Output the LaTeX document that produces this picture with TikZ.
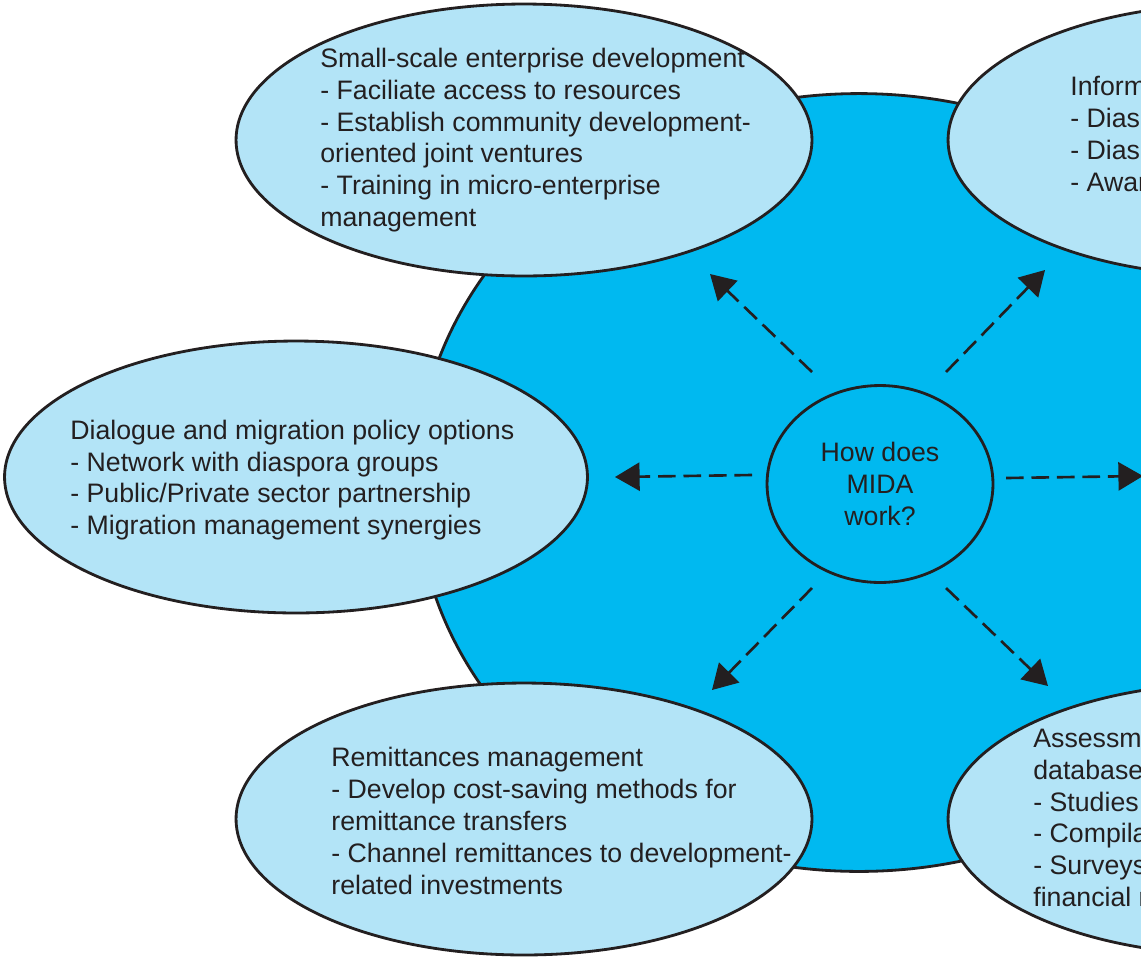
\documentclass[tikz,border=0pt]{standalone}
\usepackage{fontspec}
\setmainfont{Liberation Sans}
\usetikzlibrary{arrows.meta,shapes.geometric}
\definecolor{midablue}{HTML}{00B9F0}
\definecolor{bubbleblue}{HTML}{B3E4F7}
\definecolor{inkgray}{HTML}{231F20}
\tikzset{
	hub/.style={ellipse, draw=inkgray, line width=1.6pt, fill=midablue, inner sep=0pt},
	bubble/.style={ellipse, draw=inkgray, line width=1.6pt, fill=bubbleblue, inner sep=0pt, minimum width=11.52cm, minimum height=5.44cm},
	txt/.style={text=inkgray, align=left, anchor=west, inner sep=0pt, font=\fontsize{15.2}{18.1}\selectfont},
	link/.style={draw=inkgray, line width=1.5pt, dash pattern=on 10pt off 4.5pt, -{Triangle[length=14pt,width=16pt]}}
}

\begin{document}
\begin{tikzpicture}[x=0.02cm, y=-0.02cm]
			%%%%% START %%%%%
			
			\useasboundingbox (0,0) rectangle (1141,957);
			\clip (0,0) rectangle (1141,957);
			
			\node[hub, minimum width=17.72cm, minimum height=15.56cm] (core) at (859,482.5) {};
			\node[hub, minimum width=4.52cm, minimum height=3.94cm, text=inkgray, align=center, font=\fontsize{15.2}{18.1}\selectfont] (mida) at (880,484) {How does\\MIDA\\work?};
			
			\node[bubble] (sse) at (524,140) {};
			\node[bubble] (info) at (1236,140) {};
			\node[bubble, minimum width=11.66cm] (dlg) at (296,477) {};
			\node[bubble] (rem) at (524,819) {};
			\node[bubble] (ass) at (1236,819) {};
			\coordinate (east) at (1143,476);
			
			\node[txt] (ssetxt) at (320,140) {Small-scale enterprise development\\- Faciliate access to resources\\- Establish community development-\\oriented joint ventures\\- Training in micro-enterprise\\management};
			\node[txt] (infotxt) at (1070,134) {Inform\\- Dias\\- Dias\\- Awar};
			\node[txt] (dlgtxt) at (70,480) {Dialogue and migration policy options\\- Network with diaspora groups\\- Public/Private sector partnership\\- Migration management synergies};
			\node[txt] (remtxt) at (331,821) {Remittances management\\- Develop cost-saving methods for\\remittance transfers\\- Channel remittances to development-\\related investments};
			\node[txt] (asstxt) at (1033,818) {Assessm\\database\\- Studies\\- Compila\\- Surveys\\financial r};
			
			\draw[link] ([shift={(-68,-112)}]mida.center) -- ([shift={(186,134)}]sse.center);
			\draw[link] ([shift={(66,-112)}]mida.center) -- ([shift={(-191,130)}]info.center);
			\draw[link] ([shift={(-128,-9)}]mida.center) -- ([shift={(319,0)}]dlg.center);
			\draw[link] ([shift={(126,-6)}]mida.center) -- (east);
			\draw[link] ([shift={(-68,104)}]mida.center) -- ([shift={(188,-129)}]rem.center);
			\draw[link] ([shift={(66,104)}]mida.center) -- ([shift={(-188,-133)}]ass.center);
			
			%%%%% END %%%%%
\end{tikzpicture}
\end{document}
